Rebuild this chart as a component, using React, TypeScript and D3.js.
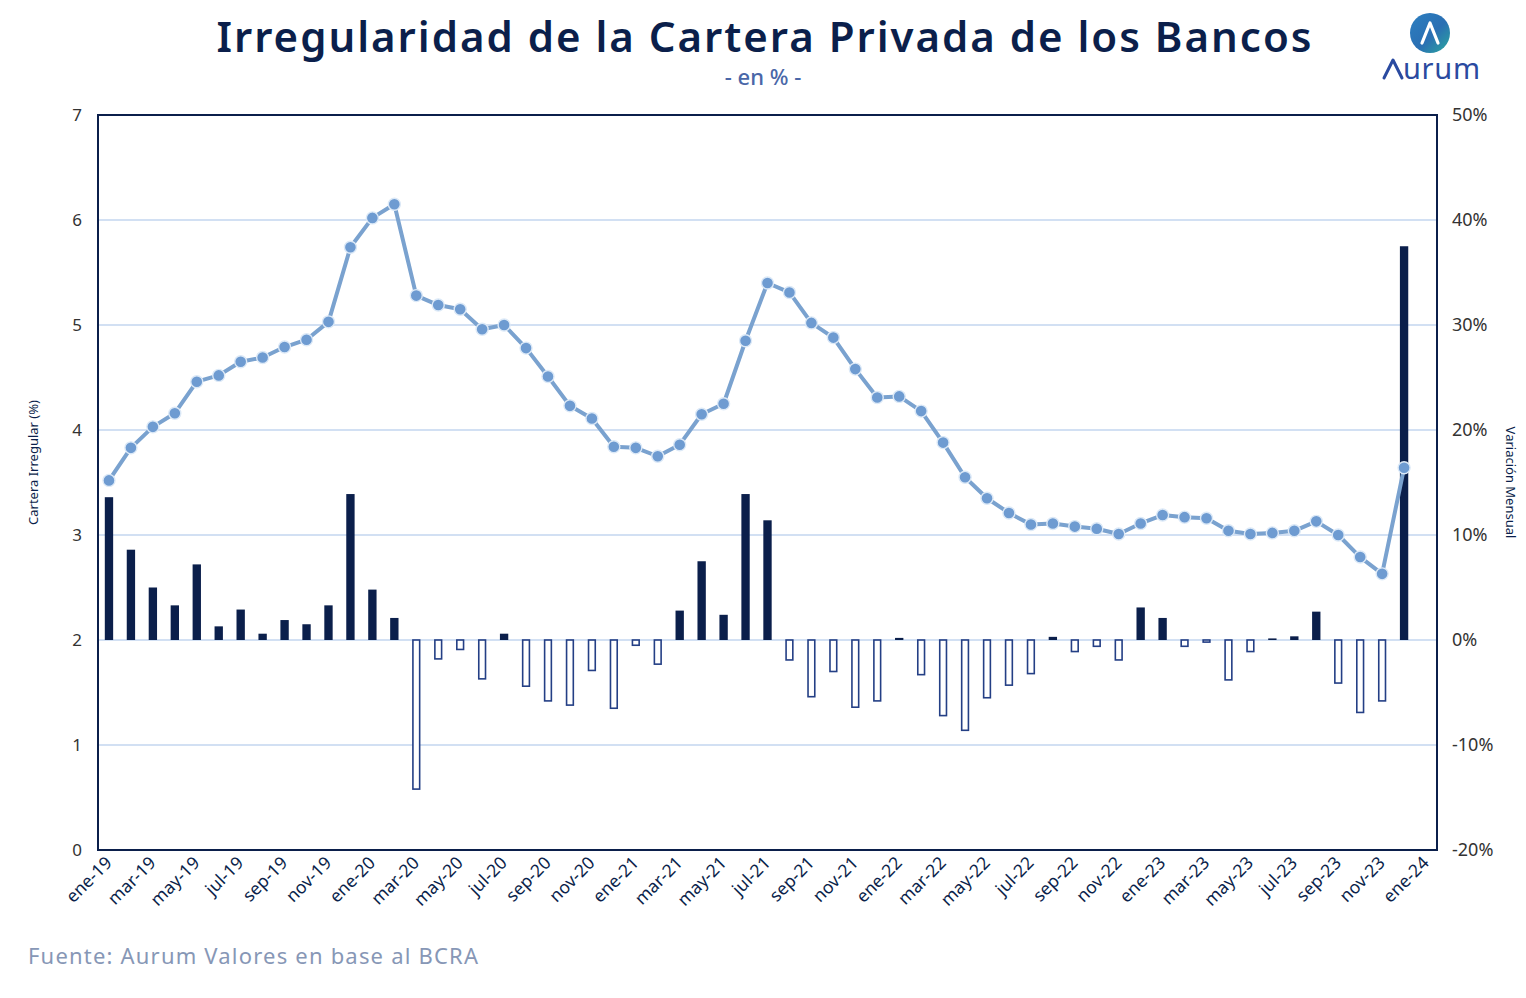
import React from "react";
import * as d3 from "d3";

// monthly categories shown on the x axis (last slot has no data yet)
const months = [
  "ene-19", "feb-19", "mar-19", "abr-19", "may-19", "jun-19", "jul-19", "ago-19", "sep-19", "oct-19", "nov-19", "dic-19",
  "ene-20", "feb-20", "mar-20", "abr-20", "may-20", "jun-20", "jul-20", "ago-20", "sep-20", "oct-20", "nov-20", "dic-20",
  "ene-21", "feb-21", "mar-21", "abr-21", "may-21", "jun-21", "jul-21", "ago-21", "sep-21", "oct-21", "nov-21", "dic-21",
  "ene-22", "feb-22", "mar-22", "abr-22", "may-22", "jun-22", "jul-22", "ago-22", "sep-22", "oct-22", "nov-22", "dic-22",
  "ene-23", "feb-23", "mar-23", "abr-23", "may-23", "jun-23", "jul-23", "ago-23", "sep-23", "oct-23", "nov-23", "dic-23",
  "ene-24",
];

// cartera irregular, % (left axis)
const irregular = [
  3.52, 3.83, 4.03, 4.16, 4.46, 4.52, 4.65, 4.69, 4.79, 4.86, 5.03, 5.74,
  6.02, 6.15, 5.28, 5.19, 5.15, 4.96, 5.0, 4.78, 4.51, 4.23, 4.11, 3.84,
  3.83, 3.75, 3.86, 4.15, 4.25, 4.85, 5.4, 5.31, 5.02, 4.88, 4.58, 4.31,
  4.32, 4.18, 3.88, 3.55, 3.35, 3.21, 3.1, 3.11, 3.08, 3.06, 3.01, 3.11,
  3.19, 3.17, 3.16, 3.04, 3.01, 3.02, 3.04, 3.13, 3.0, 2.79, 2.63, 3.64,
];

// variación mensual, % (right axis)
const variacion = [
  13.6, 8.6, 5.0, 3.3, 7.2, 1.3, 2.9, 0.6, 1.9, 1.5, 3.3, 13.9,
  4.8, 2.1, -14.2, -1.8, -0.9, -3.7, 0.6, -4.4, -5.8, -6.2, -2.9, -6.5,
  -0.5, -2.3, 2.8, 7.5, 2.4, 13.9, 11.4, -1.9, -5.4, -3.0, -6.4, -5.8,
  0.2, -3.3, -7.2, -8.6, -5.5, -4.3, -3.2, 0.3, -1.1, -0.6, -1.9, 3.1,
  2.1, -0.6, -0.2, -3.8, -1.1, 0.15, 0.35, 2.7, -4.1, -6.9, -5.8, 37.5,
];

const leftTicks = [0, 1, 2, 3, 4, 5, 6, 7];
const rightTicks = [-20, -10, 0, 10, 20, 30, 40, 50];

const W = 1526;
const H = 998;
const plot = { left: 98, right: 1437, top: 115, bottom: 850 };
const navy = "#0b1f4b";
const font = "'Noto Sans', sans-serif";

export default function App() {
  const x = d3
    .scaleBand<string>()
    .domain(months)
    .range([plot.left, plot.right])
    .paddingInner(0.62)
    .paddingOuter(0.31);
  const yL = d3.scaleLinear().domain([0, 7]).range([plot.bottom, plot.top]);
  const yR = d3.scaleLinear().domain([-20, 50]).range([plot.bottom, plot.top]);
  const bw = x.bandwidth();
  const cx = (i: number) => (x(months[i]) as number) + bw / 2;

  const line = d3
    .line<number>()
    .x((_, i) => cx(i))
    .y((d) => yL(d));

  return (
    <svg
      width={W}
      height={H}
      style={{ position: "absolute", left: 0, top: 0, display: "block", background: "#fff" }}
    >
      <defs>
        <linearGradient id="logoGrad" x1="0" y1="0" x2="1" y2="1">
          <stop offset="0%" stopColor="#2c7fc0" />
          <stop offset="55%" stopColor="#2a6fb3" />
          <stop offset="100%" stopColor="#2aa89e" />
        </linearGradient>
      </defs>

      <text
        x={764}
        y={52}
        textAnchor="middle"
        fontFamily={font}
        fontWeight={600}
        fontSize={42}
        fill={navy}
        textLength={1095}
        lengthAdjust="spacing"
      >
        Irregularidad de la Cartera Privada de los Bancos
      </text>
      <text x={763} y={85} textAnchor="middle" fontFamily={font} fontWeight={500} fontSize={22} fill="#4a67a8">
        - en % -
      </text>

      {/* logo */}
      <g>
        <circle cx={1430} cy={33} r={20} fill="url(#logoGrad)" />
        <path
          d="M1422,43 L1430,23 L1438,43"
          fill="none"
          stroke="#fff"
          strokeWidth={3.2}
          strokeLinejoin="round"
          strokeLinecap="round"
        />
        <path
          d="M1384,78 L1393,60 L1402,78"
          fill="none"
          stroke="#2a4aa0"
          strokeWidth={3}
          strokeLinejoin="round"
          strokeLinecap="round"
        />
        <text x={1403} y={79} fontFamily={font} fontSize={29} fill="#2a4aa0" textLength={77} lengthAdjust="spacing">
          urum
        </text>
      </g>

      {/* gridlines */}
      {leftTicks.slice(1, -1).map((t) => (
        <line key={t} x1={plot.left} x2={plot.right} y1={yL(t)} y2={yL(t)} stroke="#c3d6ef" strokeWidth={1.5} />
      ))}

      {/* monthly change bars */}
      {variacion.map((v, i) => {
        const y0 = yR(0);
        const y1 = yR(v);
        const top = Math.min(y0, y1);
        const h = Math.abs(y1 - y0);
        return v >= 0 ? (
          <rect key={i} x={x(months[i])} y={top} width={bw} height={Math.max(h, 1)} fill={navy} />
        ) : (
          <rect
            key={i}
            x={(x(months[i]) as number) + 0.8}
            y={top}
            width={bw - 1.6}
            height={Math.max(h, 1)}
            fill="#fff"
            stroke="#243f85"
            strokeWidth={1.6}
          />
        );
      })}

      {/* irregularity line */}
      <path d={line(irregular) || ""} fill="none" stroke="#7aa2cf" strokeWidth={4} strokeLinejoin="round" />
      {irregular.map((v, i) => (
        <circle key={i} cx={cx(i)} cy={yL(v)} r={6} fill="#6e9bd1" stroke="#dce9f7" strokeWidth={1.4} />
      ))}

      {/* plot frame */}
      <rect
        x={plot.left}
        y={plot.top}
        width={plot.right - plot.left}
        height={plot.bottom - plot.top}
        fill="none"
        stroke={navy}
        strokeWidth={2}
      />

      {/* left axis */}
      {leftTicks.map((t) => (
        <text key={t} x={82} y={yL(t) + 6} textAnchor="end" fontFamily={font} fontSize={17} fill="#333">
          {t}
        </text>
      ))}
      <text
        transform={`translate(38,${(plot.top + plot.bottom) / 2 - 20}) rotate(-90)`}
        textAnchor="middle"
        fontFamily={font}
        fontSize={13}
        fill={navy}
      >
        Cartera Irregular (%)
      </text>

      {/* right axis */}
      {rightTicks.map((t) => (
        <text key={t} x={1452} y={yR(t) + 6} fontFamily={font} fontSize={18} fill="#333">
          {t}%
        </text>
      ))}
      <text
        transform={`translate(1506,${(plot.top + plot.bottom) / 2}) rotate(90)`}
        textAnchor="middle"
        fontFamily={font}
        fontSize={13}
        fill={navy}
      >
        Variación Mensual
      </text>

      {/* x labels */}
      {months.map((m, i) =>
        i % 2 === 0 ? (
          <text
            key={m}
            transform={`translate(${cx(i) + 4},${plot.bottom + 14}) rotate(-45)`}
            textAnchor="end"
            fontFamily={font}
            fontSize={17.5}
            fill={navy}
          >
            {m}
          </text>
        ) : null
      )}

      <text
        x={28}
        y={964}
        fontFamily={font}
        fontSize={22}
        fill="#8797b6"
        textLength={450}
        lengthAdjust="spacing"
      >
        Fuente: Aurum Valores en base al BCRA
      </text>
    </svg>
  );
}
